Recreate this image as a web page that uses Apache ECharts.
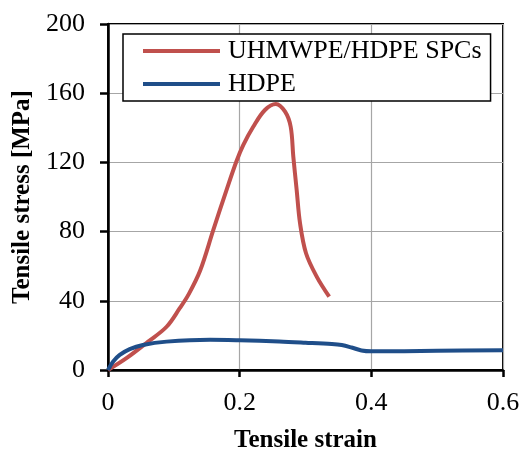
<!DOCTYPE html>
<html><head><meta charset="utf-8">
<script src="https://cdn.jsdelivr.net/npm/echarts@6/dist/echarts.min.js"></script>
<style>html,body{margin:0;padding:0;background:#fff}#c{width:520px;height:450px}</style>
</head><body><div id="c"></div>
<script>
const seriesNames = ['UHMWPE/HDPE SPCs', 'HDPE'];
const spcStrain = [0, 0.028, 0.061, 0.089, 0.109, 0.122, 0.14, 0.16, 0.18, 0.195, 0.2054, 0.2206, 0.2384, 0.255, 0.269, 0.2775, 0.2815, 0.2866, 0.2917, 0.3008, 0.317, 0.336];
const spcStress = [0, 6.8, 16.4, 25, 35.7, 43.4, 57.5, 81, 104, 120.5, 130, 140.6, 150.3, 153.8, 149.3, 140.6, 123.3, 104, 84.8, 67.5, 54, 42.4];
const hdpeStrain = [0, 0.0076, 0.0178, 0.033, 0.053, 0.089, 0.155, 0.2, 0.26, 0.3, 0.34, 0.355, 0.37, 0.385, 0.4, 0.45, 0.5, 0.6];
const hdpeStress = [0, 4.8, 8.7, 12.1, 14.5, 16.4, 17.5, 17.2, 16.5, 15.8, 15, 14.4, 13, 11.3, 10.8, 10.9, 11.1, 11.4];
const xTicks = [0, 0.2, 0.4, 0.6];
const yTicks = [0, 40, 80, 120, 160, 200];

const pair = (xs, ys) => xs.map((x, i) => [x, ys[i]]);
const font = 'Liberation Serif, Times New Roman, serif';
const chart = echarts.init(document.getElementById('c'), null, {renderer: 'canvas'});
chart.setOption({
  animation: false,
  backgroundColor: '#fff',
  grid: {left: 108, right: 17, top: 24, bottom: 80, containLabel: false, outerBoundsMode: 'none',
         show: true, borderColor: '#000', borderWidth: 2},
  legend: {
    data: seriesNames, orient: 'vertical', left: 123, top: 34,
    backgroundColor: '#fff', borderColor: '#000', borderWidth: 1.5,
    padding: [4, 9, 4, 20], itemWidth: 77, itemHeight: 4, itemGap: 7, icon: 'rect',
    textStyle: {fontFamily: font, fontSize: 26, color: '#000', padding: [0, 0, 0, 3]}
  },
  xAxis: {
    type: 'value', min: xTicks[0], max: xTicks[xTicks.length - 1], interval: 0.2,
    name: 'Tensile strain', nameLocation: 'middle', nameGap: 58,
    nameTextStyle: {fontFamily: font, fontSize: 25, fontWeight: 'bold', color: '#000'},
    axisLine: {lineStyle: {color: '#000', width: 2.5}},
    axisTick: {show: true, length: 7, lineStyle: {color: '#000', width: 2.5}},
    axisLabel: {fontFamily: font, fontSize: 26, color: '#000', margin: 20, formatter: v => String(v)},
    splitLine: {show: true, lineStyle: {color: '#a6a6a6', width: 1.2}}
  },
  yAxis: {
    type: 'value', min: yTicks[0], max: yTicks[yTicks.length - 1], interval: 40,
    name: 'Tensile stress [MPa]', nameLocation: 'middle', nameGap: 73,
    nameTextStyle: {fontFamily: font, fontSize: 25, fontWeight: 'bold', color: '#000'},
    axisLine: {lineStyle: {color: '#000', width: 2.5}},
    axisTick: {show: true, length: 8, lineStyle: {color: '#000', width: 2.5}},
    axisLabel: {fontFamily: font, fontSize: 26, color: '#000', margin: 23},
    splitLine: {show: true, lineStyle: {color: '#a6a6a6', width: 1.2}}
  },
  series: [
    {name: seriesNames[0], type: 'line', data: pair(spcStrain, spcStress), symbol: 'none', smooth: 0.35,
     lineStyle: {color: '#C0504D', width: 4}, itemStyle: {color: '#C0504D'}, z: 3},
    {name: seriesNames[1], type: 'line', data: pair(hdpeStrain, hdpeStress), symbol: 'none', smooth: 0.35,
     lineStyle: {color: '#1F4E89', width: 4}, itemStyle: {color: '#1F4E89'}, z: 4}
  ]
});
</script></body></html>
